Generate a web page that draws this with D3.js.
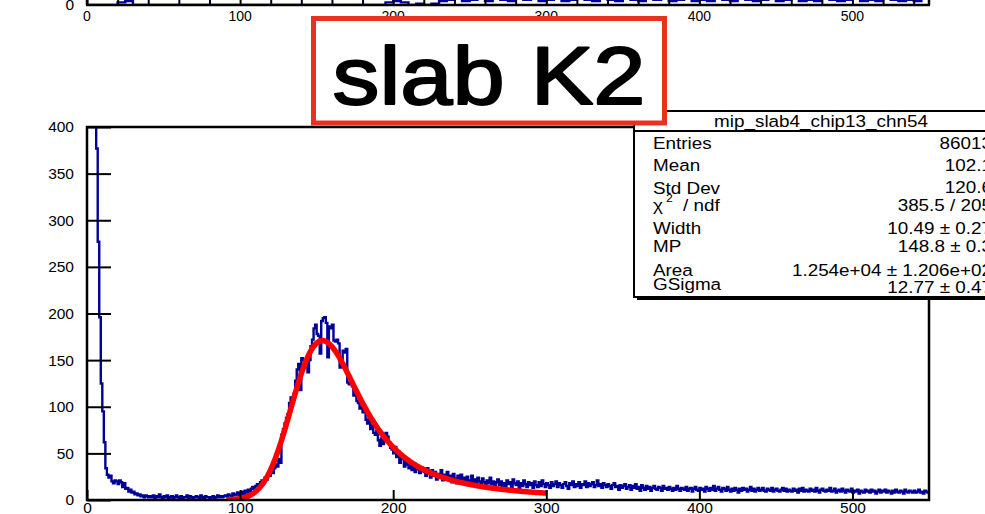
<!DOCTYPE html>
<html>
<head>
<meta charset="utf-8">
<script src="https://cdn.jsdelivr.net/npm/d3@7"></script>
<style>
  body { margin: 0; background: #fff; }
  svg { display: block; font-family: "Liberation Sans", Arial, Helvetica, sans-serif; }
</style>
</head>
<body>
<svg id="chart" width="985" height="514"></svg>
<script>
// ---- data -------------------------------------------------------------
const panelTitle = "slab K2";
const histName = "mip_slab4_chip13_chn54";

// bin contents, 1 ADC unit per bin starting at 0
const counts = [
  9000, 5200, 3100, 1600, 880, 520, 377, 277, 196, 125,
  95, 62, 34, 27, 24, 26, 20, 18, 21, 20,
  17, 21, 19, 14, 18, 12, 13, 9, 11, 8,
  9, 6, 7, 5, 6, 4, 5, 3, 5, 4,
  3, 4, 3, 5, 2, 4, 3, 6, 3, 2,
  4, 3, 5, 2, 3, 4, 2, 3, 5, 3,
  2, 4, 2, 3, 3, 5, 2, 4, 3, 2,
  3, 4, 3, 2, 5, 3, 2, 4, 3, 3,
  2, 3, 4, 2, 3, 5, 3, 4, 3, 4,
  5, 4, 6, 5, 4, 7, 5, 6, 8, 5,
  7, 9, 6, 10, 8, 11, 9, 12, 14, 11,
  15, 17, 14, 19, 21, 18, 24, 22, 28, 26,
  31, 29, 34, 38, 36, 44, 40, 70, 76, 82,
  88, 92, 104, 110, 106, 114, 128, 140, 146, 118,
  152, 150, 148, 146, 137, 150, 165, 172, 184, 188,
  178, 176, 157, 192, 195, 196, 190, 153, 186, 184,
  188, 171, 170, 172, 168, 142, 150, 160, 158, 162,
  126, 124, 128, 122, 112, 118, 106, 104, 98, 100,
  94, 96, 86, 82, 88, 76, 80, 72, 70, 74,
  64, 58, 66, 60, 70, 72, 68, 62, 56, 54,
  50, 57, 46, 52, 40, 48, 44, 36, 42, 38,
  34, 40, 32, 38, 30, 36, 33, 29, 35, 31,
  30, 26, 34, 28, 24, 32, 26, 30, 22, 28,
  25, 32, 21, 27, 24, 30, 22, 26, 19, 28,
  23, 18, 26, 22, 27, 20, 24, 17, 25, 21,
  19, 26, 18, 22, 16, 24, 20, 17, 23, 19,
  15, 21, 18, 24, 17, 20, 14, 19, 22, 16,
  20, 15, 18, 13, 21, 17, 19, 14, 22, 18,
  16, 20, 13, 18, 15, 21, 17, 14, 19, 16,
  18, 13, 20, 16, 14, 19, 15, 21, 17, 14,
  18, 16, 13, 19, 15, 17, 20, 14, 18, 16,
  13, 17, 19, 15, 12, 18, 16, 20, 14, 17,
  15, 19, 13, 17, 16, 20, 14, 18, 15, 17,
  19, 14, 16, 21, 15, 17, 13, 18, 16, 14,
  17, 15, 12, 16, 18, 14, 15, 11, 16, 13,
  15, 17, 12, 14, 16, 11, 15, 13, 17, 12,
  14, 10, 16, 13, 11, 15, 12, 14, 10, 13,
  15, 12, 11, 14, 13, 10, 15, 12, 13, 11,
  14, 12, 10, 13, 11, 15, 12, 10, 13, 12,
  11, 14, 10, 12, 13, 9, 12, 14, 11, 10,
  13, 11, 12, 9, 14, 12, 10, 13, 11, 15,
  10, 12, 14, 11, 9, 13, 12, 10, 14, 11,
  9, 12, 10, 13, 11, 8, 12, 10, 13, 11,
  12, 9, 11, 14, 10, 12, 9, 11, 13, 10,
  11, 13, 10, 9, 12, 11, 10, 13, 9, 11,
  12, 10, 9, 11, 13, 10, 12, 9, 11, 10,
  9, 12, 10, 11, 8, 12, 10, 13, 9, 11,
  10, 9, 12, 10, 11, 9, 13, 10, 8, 11,
  12, 10, 9, 11, 10, 13, 9, 10, 12, 8,
  10, 11, 9, 12, 10, 8, 11, 10, 9, 12,
  8, 10, 9, 11, 7, 10, 9, 8, 11, 9,
  10, 8, 11, 9, 10, 7, 9, 11, 8, 10,
  9, 11, 8, 10, 9, 7, 10, 8, 11, 9,
  8, 10, 9, 7, 11, 9, 8, 10, 9, 8,
  10, 8, 9, 11, 8, 9, 7, 10, 9, 8
];
const binWidth = 1;

// previous panel (only its lowest strip is on the page), 5 ADC units per bin
const prevCounts = [
  0, 0, 0, 0, 2, 3, 0, 0, 0, 0,
  0, 0, 0, 0, 0, 0, 0, 0, 0, 0,
  0, 0, 0, 0, 0, 0, 0, 0, 0, 0,
  0, 0, 0, 0, 0, 0, 0, 0, 0, 2,
  3, 2, 0, 1, 0, 1, 3, 4, 5, 3,
  4, 6, 3, 5, 4, 3, 5, 4, 6, 3,
  4, 5, 3, 4, 6, 4, 3, 5, 4, 3,
  5, 4, 3, 6, 4, 5, 3, 4, 5, 3,
  4, 3, 5, 4, 3, 5, 4, 3, 4, 5,
  3, 4, 5, 3, 4, 3, 5, 4, 3, 4,
  5, 3, 4, 3, 5, 4, 3, 4, 3, 5
];
const prevBinWidth = 5;

const xMajorTicks = [0, 100, 200, 300, 400, 500];
const xMinorTicks = d3.range(0, 551, 20);
const yMajorTicks = [0, 50, 100, 150, 200, 250, 300, 350, 400];
const yMinorTicks = d3.range(0, 401, 10);

// Landau (x) Gauss fit result
const fitWidth = 10.49, fitMP = 148.8, fitArea = 1.254e4, fitGSigma = 12.77;
const fitRange = [91, 300];

const statsLabels = ["Entries", "Mean", "Std Dev", "chi2", "Width", "MP", "Area", "GSigma"];
const statsValues = ["86013", "102.1", "120.6", "385.5 / 205", "10.49 \u00b1 0.27",
                     "148.8 \u00b1 0.3", "1.254e+04 \u00b1 1.206e+02", "12.77 \u00b1 0.47"];

// ---- Landau density (CERNLIB DENLAN) and Landau (x) Gauss convolution ----
function landauPdf(v) {
  const p1 = [0.4259894875, -0.1249762550, 0.03984243700, -0.006298287635, 0.001511162253];
  const q1 = [1.0, -0.3388260629, 0.09594393323, -0.01608042283, 0.003778942063];
  const p2 = [0.1788541609, 0.1173957403, 0.01488850518, -0.001394989411, 0.0001283617211];
  const q2 = [1.0, 0.7428795082, 0.3153932961, 0.06694219548, 0.008790609714];
  const p3 = [0.1788544503, 0.09359161662, 0.006325387654, 0.00006611667319, -0.000002031049101];
  const q3 = [1.0, 0.6097809921, 0.2560616665, 0.04746722384, 0.006957301675];
  const p4 = [0.9874054407, 118.6723273, 849.2794360, -743.7792444, 427.0262186];
  const q4 = [1.0, 106.8615961, 337.6496214, 2016.712389, 1597.063511];
  const p5 = [1.003675074, 167.5702434, 4789.711289, 21217.86767, -22324.94910];
  const q5 = [1.0, 156.9424537, 3745.310488, 9834.698876, 66924.28357];
  const p6 = [1.000827619, 664.9143136, 62972.92665, 475554.6998, -5743609.109];
  const q6 = [1.0, 651.4101098, 56974.73333, 165917.4725, -2815759.939];
  const a1 = [0.04166666667, -0.01996527778, 0.02709538966];
  const a2 = [-1.845568670, -4.284640743];
  const poly = (c, t) => c[0] + (c[1] + (c[2] + (c[3] + c[4] * t) * t) * t) * t;
  let u;
  if (v < -5.5) {
    u = Math.exp(v + 1.0);
    if (u < 1e-10) return 0;
    const ue = Math.exp(-1 / u), us = Math.sqrt(u);
    return 0.3989422803 * (ue / us) * (1 + (a1[0] + (a1[1] + a1[2] * u) * u) * u);
  } else if (v < -1) {
    u = Math.exp(-v - 1);
    return Math.exp(-u) * Math.sqrt(u) * poly(p1, v) / poly(q1, v);
  } else if (v < 1) {
    return poly(p2, v) / poly(q2, v);
  } else if (v < 5) {
    return poly(p3, v) / poly(q3, v);
  } else if (v < 12) {
    u = 1 / v; return u * u * poly(p4, u) / poly(q4, u);
  } else if (v < 50) {
    u = 1 / v; return u * u * poly(p5, u) / poly(q5, u);
  } else if (v < 300) {
    u = 1 / v; return u * u * poly(p6, u) / poly(q6, u);
  }
  u = 1 / (v - v * Math.log(v) / (v + 1));
  return u * u * (1 + (a2[0] + a2[1] * u) * u);
}

function langaus(xv) {
  const invsq2pi = 0.3989422804014, mpshift = -0.22278298, np = 100, sc = 5;
  const mpc = fitMP - mpshift * fitWidth;
  const xlow = xv - sc * fitGSigma, xupp = xv + sc * fitGSigma;
  const step = (xupp - xlow) / np;
  let sum = 0;
  for (let i = 1; i <= np / 2; i++) {
    let xx = xlow + (i - 0.5) * step;
    sum += landauPdf((xx - mpc) / fitWidth) / fitWidth * Math.exp(-0.5 * ((xv - xx) / fitGSigma) ** 2);
    xx = xupp - (i - 0.5) * step;
    sum += landauPdf((xx - mpc) / fitWidth) / fitWidth * Math.exp(-0.5 * ((xv - xx) / fitGSigma) ** 2);
  }
  return fitArea * step * sum * invsq2pi / fitGSigma;
}

// ---- layout ------------------------------------------------------------
const svg = d3.select("#chart");
const frame = { left: 87, right: 929, top: 127, bottom: 500 };
const x = d3.scaleLinear().domain([0, 550]).range([frame.left, frame.right]);
const y = d3.scaleLinear().domain([0, 400]).range([frame.bottom, frame.top]);
const histColor = "#000099";
const axisFont = 15.5;

// stretch a text horizontally around its anchor point
function stretch(sel, sx) {
  sel.each(function () {
    const t = d3.select(this);
    const tx = +t.attr("x") || 0, ty = +t.attr("y") || 0;
    t.attr("transform", `translate(${tx},${ty}) scale(${sx},1) translate(${-tx},${-ty})`);
  });
}

// ---- previous panel: bottom strip -------------------------------------
const topBase = 5;
const yPrev = d3.scaleLinear().domain([0, 10]).range([topBase, topBase - 13]);
svg.append("clipPath").attr("id", "clipPrev")
  .append("rect").attr("x", frame.left).attr("y", -50).attr("width", frame.right - frame.left).attr("height", 50 + topBase);

const prevPts = prevCounts.map((c, i) => [i * prevBinWidth, c]);
prevPts.push([prevCounts.length * prevBinWidth, prevCounts[prevCounts.length - 1]]);
svg.append("path")
  .attr("clip-path", "url(#clipPrev)")
  .attr("d", d3.line().curve(d3.curveStepAfter).x(d => x(d[0])).y(d => yPrev(d[1]))(prevPts))
  .attr("fill", "none").attr("stroke", histColor).attr("stroke-width", 2.4);

const gPrevAxis = svg.append("g").attr("transform", `translate(0,${topBase})`);
gPrevAxis.call(d3.axisBottom(x).tickValues(xMinorTicks).tickSize(-20).tickFormat(""));
gPrevAxis.call(g => g.select(".domain").remove());
gPrevAxis.selectAll("line").attr("stroke", "#000").attr("stroke-width", 2);
const gPrevLab = svg.append("g");
gPrevLab.selectAll("text").data(xMajorTicks).join("text")
  .attr("x", d => x(d)).attr("y", 21).attr("text-anchor", "middle")
  .attr("font-size", 14).text(d => d);
svg.append("text").attr("x", 74).attr("y", 10).attr("text-anchor", "end").attr("font-size", axisFont).text("0");
svg.append("line").attr("x1", frame.left - 1).attr("x2", frame.right + 1).attr("y1", topBase).attr("y2", topBase)
  .attr("stroke", "#000").attr("stroke-width", 2.5);
svg.append("line").attr("x1", frame.left).attr("x2", frame.left).attr("y1", -2).attr("y2", topBase)
  .attr("stroke", "#000").attr("stroke-width", 2.5);
svg.append("line").attr("x1", frame.right).attr("x2", frame.right).attr("y1", -2).attr("y2", topBase)
  .attr("stroke", "#000").attr("stroke-width", 2.5);

// ---- main panel ----------------------------------------------------------
svg.append("clipPath").attr("id", "clipMain")
  .append("rect").attr("x", frame.left).attr("y", frame.top)
  .attr("width", frame.right - frame.left).attr("height", frame.bottom - frame.top);

const pts = counts.map((c, i) => [i * binWidth, c]);
pts.push([counts.length * binWidth, counts[counts.length - 1]]);
svg.append("path")
  .attr("clip-path", "url(#clipMain)")
  .attr("d", d3.line().curve(d3.curveStepAfter).x(d => x(d[0])).y(d => y(d[1]))(pts))
  .attr("fill", "none").attr("stroke", histColor).attr("stroke-width", 2.4)
  .attr("stroke-linejoin", "miter");

const fitPts = d3.range(fitRange[0], fitRange[1] + 0.001, 0.5).map(v => [v, langaus(v)]);
svg.append("path")
  .attr("clip-path", "url(#clipMain)")
  .attr("d", d3.line().x(d => x(d[0])).y(d => y(d[1]))(fitPts))
  .attr("fill", "none").attr("stroke", "#ff0000").attr("stroke-width", 5.5)
  .attr("stroke-linejoin", "round");

// axes
const gy = svg.append("g").attr("transform", `translate(${frame.left},0)`);
gy.call(d3.axisLeft(y).tickValues(yMinorTicks).tickSize(-12).tickFormat(""));
gy.call(d3.axisLeft(y).tickValues(yMajorTicks).tickSize(-24).tickPadding(13));
gy.selectAll(".domain").remove();
gy.selectAll("line").attr("stroke", "#000").attr("stroke-width", 2);
gy.selectAll("text").attr("font-size", axisFont).attr("font-family", "Liberation Sans, Arial, sans-serif").attr("fill", "#000");

const gx = svg.append("g").attr("transform", `translate(0,${frame.bottom})`);
gx.call(d3.axisBottom(x).tickValues(xMinorTicks).tickSize(-5).tickFormat(""));
gx.call(d3.axisBottom(x).tickValues(xMajorTicks).tickSize(-10).tickPadding(2));
gx.selectAll(".domain").remove();
gx.selectAll("line").attr("stroke", "#000").attr("stroke-width", 2);
gx.selectAll("text").attr("font-size", axisFont).attr("font-family", "Liberation Sans, Arial, sans-serif").attr("fill", "#000");

svg.append("rect")
  .attr("x", frame.left).attr("y", frame.top)
  .attr("width", frame.right - frame.left).attr("height", frame.bottom - frame.top)
  .attr("fill", "none").attr("stroke", "#000").attr("stroke-width", 2.5);

// ---- statistics box -------------------------------------------------------
const box = { x: 634, y: 111, w: 380, h: 186, titleH: 20 };
svg.append("rect").attr("x", box.x + 3).attr("y", box.y + 3).attr("width", box.w).attr("height", box.h).attr("fill", "#000");
svg.append("rect").attr("x", box.x).attr("y", box.y).attr("width", box.w).attr("height", box.h)
  .attr("fill", "#fff").attr("stroke", "#000").attr("stroke-width", 2);
svg.append("line").attr("x1", box.x).attr("x2", box.x + box.w)
  .attr("y1", box.y + box.titleH).attr("y2", box.y + box.titleH)
  .attr("stroke", "#000").attr("stroke-width", 2);

const statFont = 17, statStretch = 1.11;
const tTitle = svg.append("text").attr("x", 821).attr("y", 127)
  .attr("text-anchor", "middle").attr("font-size", statFont).text(histName);
stretch(tTitle, statStretch);

const labelY = [149, 171, 194, 211, 234, 252, 276, 290];
const valueY = [149, 171, 193, 211, 234, 252, 276, 293];
const labelX = 653, valueX = 992;

statsLabels.forEach((lab, i) => {
  if (lab === "chi2") {
    const t1 = svg.append("text").attr("x", labelX).attr("y", labelY[i]).attr("font-size", statFont).text("\u03c7");
    const t2 = svg.append("text").attr("x", 666).attr("y", 202).attr("font-size", 11).text("2");
    const t3 = svg.append("text").attr("x", 683).attr("y", labelY[i]).attr("font-size", statFont).text("/ ndf");
    stretch(t1, statStretch); stretch(t2, statStretch); stretch(t3, statStretch);
  } else {
    const t = svg.append("text").attr("x", labelX).attr("y", labelY[i]).attr("font-size", statFont).text(lab);
    stretch(t, statStretch);
  }
});
statsValues.forEach((val, i) => {
  const t = svg.append("text").attr("x", valueX).attr("y", valueY[i])
    .attr("text-anchor", "end").attr("font-size", statFont).text(val);
  stretch(t, statStretch);
});

// ---- panel label ------------------------------------------------------------
svg.append("rect").attr("x", 313.5).attr("y", 18.5).attr("width", 351).attr("height", 104.5)
  .attr("fill", "#fff").attr("stroke", "#e8321f").attr("stroke-width", 5);
svg.append("text").attr("x", 332.5).attr("y", 103.5)
  .attr("font-size", 82).attr("textLength", 313).attr("lengthAdjust", "spacingAndGlyphs")
  .attr("fill", "#000").attr("stroke", "#000").attr("stroke-width", 2)
  .attr("stroke-linejoin", "round").text(panelTitle);
</script>
</body>
</html>
